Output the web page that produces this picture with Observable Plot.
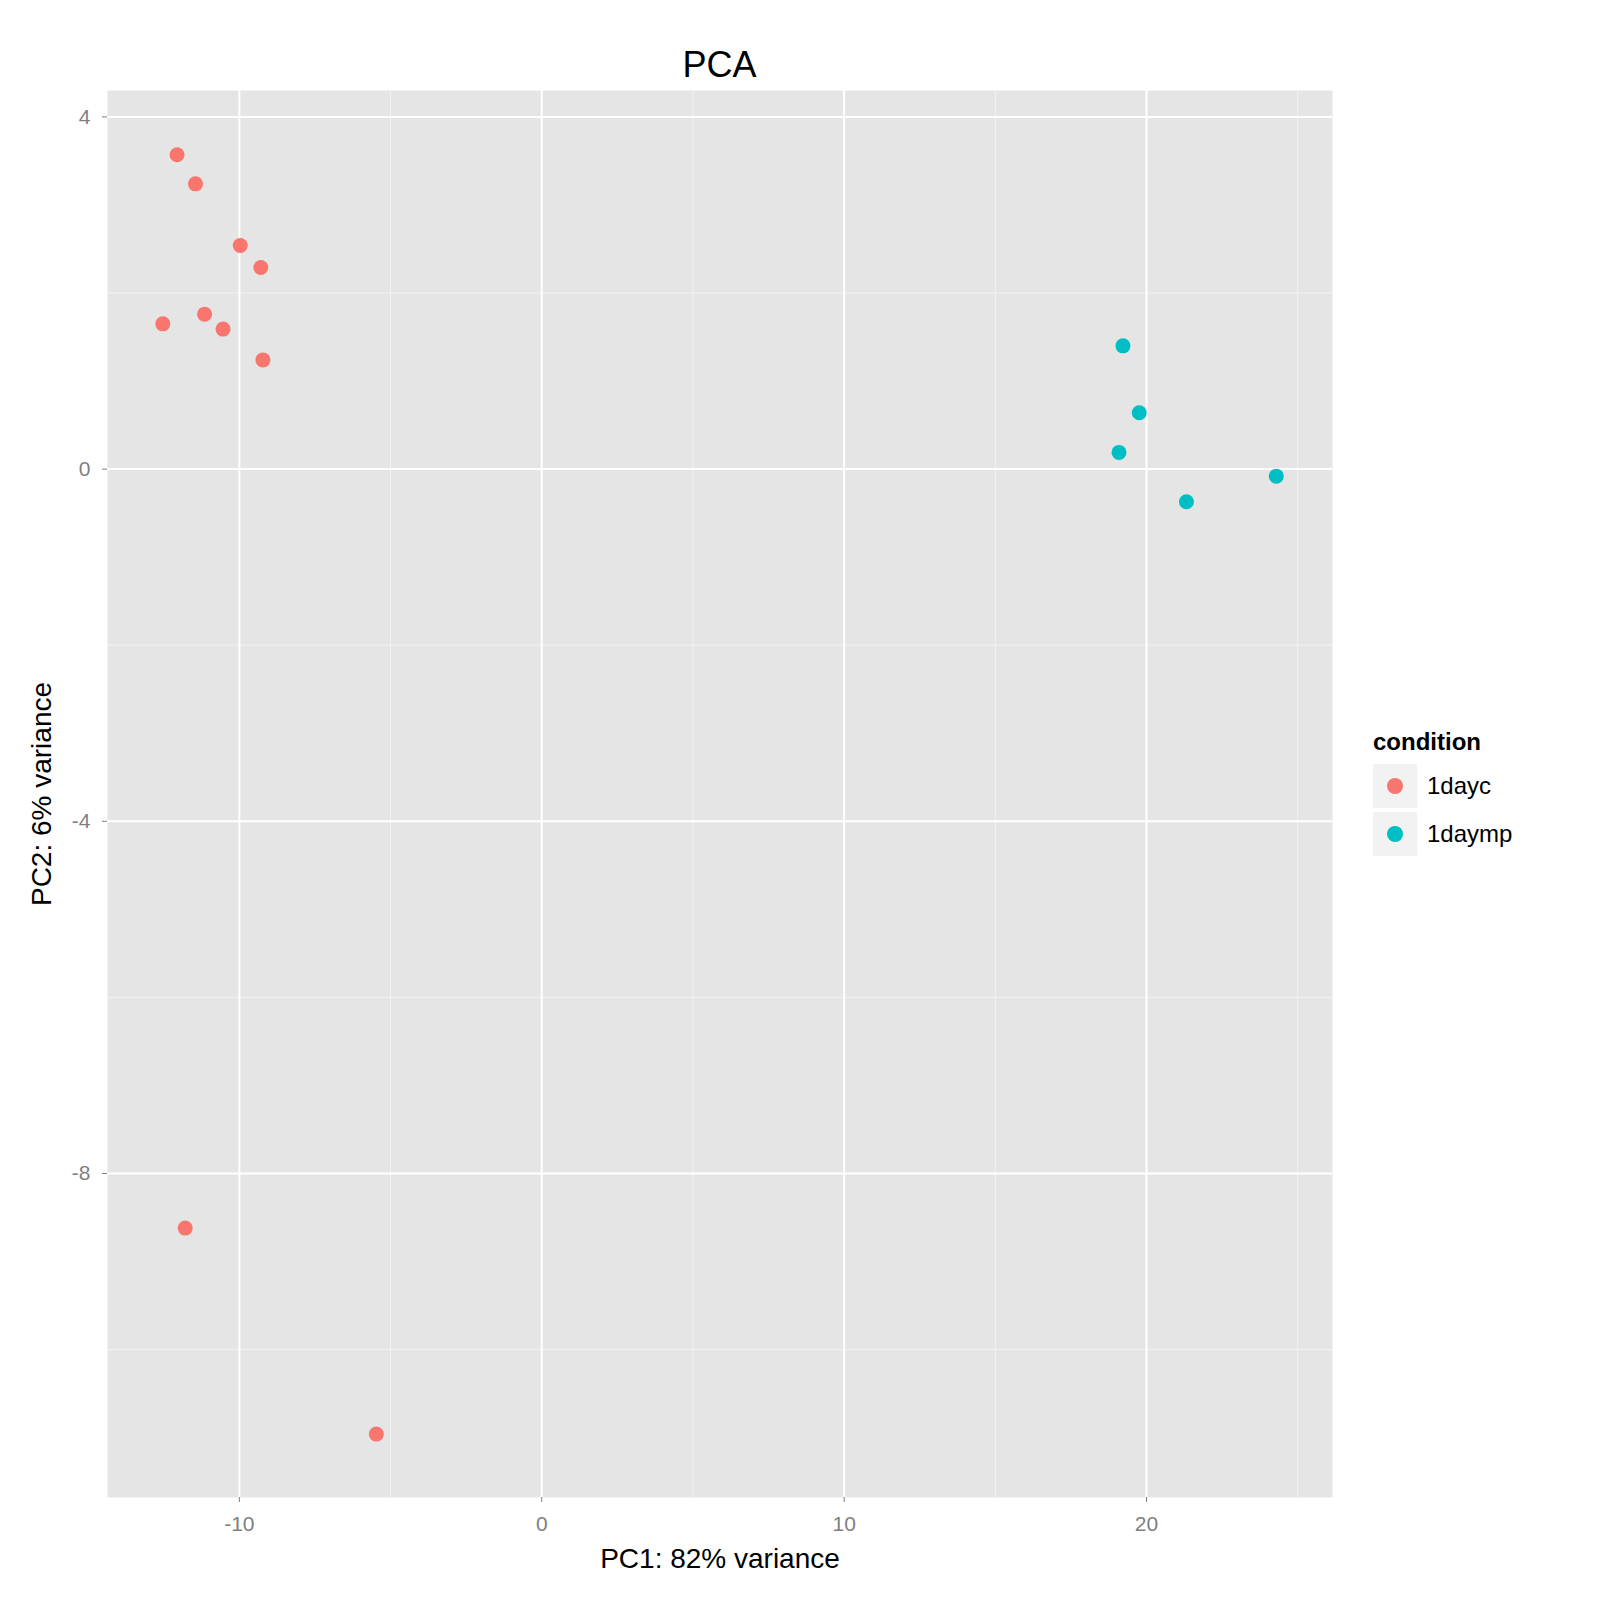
<!DOCTYPE html>
<html><head><meta charset="utf-8">
<script src="https://cdn.jsdelivr.net/npm/d3@7"></script>
<script src="https://cdn.jsdelivr.net/npm/@observablehq/plot@0.6"></script>
<style>
body{margin:0;background:#fff;font-family:"Liberation Sans",Arial,sans-serif}
#wrap{position:relative;width:1600px;height:1600px}
#title{position:absolute;left:107px;width:1225px;top:44px;text-align:center;font-size:36px}
#legend{position:absolute;left:1409px;top:728px;font-size:24px}
.item{display:flex;align-items:center;height:48px}
.key{width:44px;height:44px;background:#F2F2F2;display:flex;align-items:center;justify-content:center;margin-right:10px}
.dot{width:16px;height:16px;border-radius:50%}
</style></head><body>
<div id="wrap"><div id="title">PCA</div><div id="legend"></div></div>
<script>
const conditions=["1dayc","1daymp"];
const colors=["#F8766D","#00BFC4"];
const pc1=[-12.06,-11.45,-9.97,-9.29,-11.15,-12.53,-10.54,-9.22,-11.79,-5.47,19.22,19.76,19.09,21.32,24.29];
const pc2=[3.57,3.24,2.54,2.29,1.76,1.65,1.59,1.24,-8.62,-10.96,1.40,0.64,0.19,-0.37,-0.08];
const cond=["1dayc","1dayc","1dayc","1dayc","1dayc","1dayc","1dayc","1dayc","1dayc","1dayc","1daymp","1daymp","1daymp","1daymp","1daymp"];
const xMajor=[-10,0,10,20], xMinor=[-5,5,15,25];
const yMajor=[4,0,-4,-8], yMinor=[2,-2,-6,-10];
const data=pc1.map((x,i)=>({x,y:pc2[i],c:cond[i]}));
const p=Plot.plot({
  width:1600,height:1600,marginLeft:107,marginRight:268,marginTop:90,marginBottom:103,
  style:{fontFamily:"Liberation Sans, Arial, sans-serif",background:"transparent"},
  x:{domain:[-14.36,26.15],label:null},
  y:{domain:[-11.68,4.30],label:null},
  color:{domain:conditions,range:colors},
  marks:[
    Plot.frame({fill:"#E5E5E5",stroke:null}),
    Plot.ruleX(xMinor,{stroke:"#F2F2F2",strokeWidth:1}),
    Plot.ruleY(yMinor,{stroke:"#F2F2F2",strokeWidth:1}),
    Plot.ruleX(xMajor,{stroke:"#fff",strokeWidth:2}),
    Plot.ruleY(yMajor,{stroke:"#fff",strokeWidth:2}),
    Plot.axisX({ticks:xMajor,tickFormat:d=>String(d),tickSize:5,stroke:"#7F7F7F",fill:"#7F7F7F",fontSize:21,tickPadding:14,label:"PC1: 82% variance",labelAnchor:"center",labelArrow:"none",labelOffset:70}),
    Plot.axisY({ticks:yMajor,tickFormat:d=>String(d),tickSize:5,stroke:"#7F7F7F",fill:"#7F7F7F",fontSize:21,tickPadding:12,label:"PC2: 6% variance",labelAnchor:"center",labelArrow:"none",labelOffset:76}),
    Plot.dot(data,{x:"x",y:"y",fill:"c",r:7.5})
  ]
});
p.style.position="absolute";p.style.left="0";p.style.top="0";
document.getElementById("wrap").prepend(p);
d3.select(p).selectAll("g[aria-label='x-axis label'] text, g[aria-label='y-axis label'] text").attr("fill","#000").style("font-size","28px");
const lg=document.getElementById("legend");
lg.innerHTML='<div style="font-weight:bold;margin-left:-36px;margin-bottom:6px">condition</div>'+
 conditions.map((c,i)=>`<div class="item" style="margin-left:-36px"><div class="key"><div class="dot" style="background:${colors[i]}"></div></div>${c}</div>`).join("");
</script></body></html>
